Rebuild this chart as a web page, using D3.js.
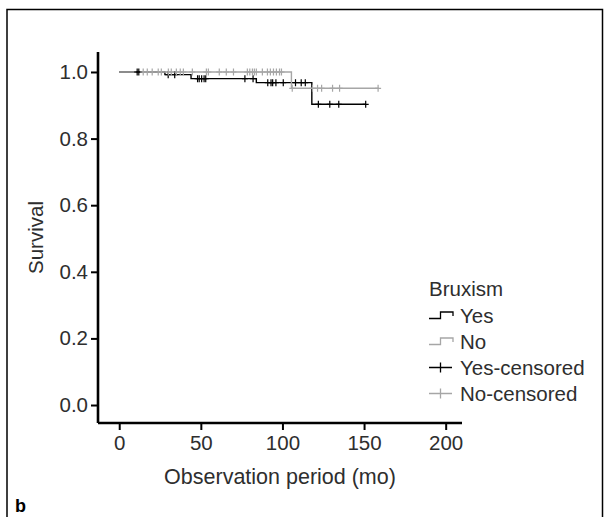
<!DOCTYPE html>
<html>
<head>
<meta charset="utf-8">
<script src="https://cdn.jsdelivr.net/npm/d3@7"></script>
<style>
  html, body { margin: 0; padding: 0; background: #fff; }
  svg { display: block; }
  text { font-family: "Liberation Sans", Arial, Helvetica, sans-serif; }
</style>
</head>
<body>
<svg id="chart" width="604" height="517"></svg>
<script>
// ---- data ----
const groups = ["Yes", "No"];
const yesTimes = [0, 28, 44, 84, 118, 151];
const yesSurv  = [1, 0.992, 0.980, 0.968, 0.903, 0.903];
const yesCensored = [11, 12, 30, 34, 48, 49, 50.5, 52, 53, 77, 82, 91, 93, 94, 96, 100.5, 108, 111.5, 114, 122, 129, 134.5, 151];
const noTimes = [0, 105.5, 159];
const noSurv  = [1, 0.951, 0.951];
const noCensored = [14.7, 17.2, 20.2, 23.9, 25.8, 30.1, 31.9, 35, 37.4, 39.3, 44.8, 53.4, 54.6, 61.3, 65.6, 70, 78.5, 80, 81.6, 82.8, 84, 87.7, 90.8, 92.6, 94.5, 96.3, 98.2, 99.4, 106, 118.4, 121.5, 124, 130.7, 135, 158.6];
const xTicks = [0, 50, 100, 150, 200];
const yTicks = [0, 0.2, 0.4, 0.6, 0.8, 1.0];
const legendTitle = "Bruxism";
const legendLabels = ["Yes", "No", "Yes-censored", "No-censored"];
const xTitle = "Observation period (mo)";
const yTitle = "Survival";
const panelLabel = "b";

// ---- layout ----
const svg = d3.select("#chart");
const FONT = 20.5;
const textColor = "#2e2e2e";
const colors = { Yes: "#000000", No: "#a6a6a6" };

const x = d3.scaleLinear().domain([-13, 210]).range([98, 462]);
const y = d3.scaleLinear().domain([-0.054, 1.06]).range([423, 52]);

// frame
svg.append("rect")
  .attr("x", 7).attr("y", 9.5)
  .attr("width", 595.5).attr("height", 560)
  .attr("fill", "none").attr("stroke", "#000").attr("stroke-width", 1.5);

// axes
const xAxis = d3.axisBottom(x).tickValues(xTicks).tickSize(7).tickPadding(5).tickFormat(d3.format("d"));
const yAxis = d3.axisLeft(y).tickValues(yTicks).tickSize(7).tickPadding(3).tickFormat(d3.format(".1f"));

const gx = svg.append("g").attr("transform", "translate(0,423)").call(xAxis);
const gy = svg.append("g").attr("transform", "translate(98,0)").call(yAxis);
[gx, gy].forEach(g => {
  g.select(".domain").attr("stroke", "#000").attr("stroke-width", 2.6);
  g.selectAll(".tick line").attr("stroke", "#000").attr("stroke-width", 2);
  g.selectAll(".tick text").attr("fill", textColor).style("font-size", FONT + "px")
    .style("font-family", '"Liberation Sans", Arial, sans-serif');
});
gx.select(".domain").attr("d", `M${x.range()[0]},0H${x.range()[1]}`);
gy.select(".domain").attr("d", `M0,${y.range()[0]}V${y.range()[1]}`);

// titles
svg.append("text").attr("x", (x.range()[0] + x.range()[1]) / 2).attr("y", 484)
  .attr("text-anchor", "middle").attr("fill", textColor).style("font-size", "21.5px").text(xTitle);
svg.append("text").attr("transform", `translate(43,${(y.range()[0] + y.range()[1]) / 2}) rotate(-90)`)
  .attr("text-anchor", "middle").attr("fill", textColor).style("font-size", FONT + "px").text(yTitle);
svg.append("text").attr("x", 15).attr("y", 512).attr("fill", "#000")
  .style("font-size", "18px").style("font-weight", "bold").text(panelLabel);

// curves
const series = {
  Yes: { t: yesTimes, s: yesSurv, c: yesCensored },
  No:  { t: noTimes,  s: noSurv,  c: noCensored }
};
const line = d3.line().x(d => x(d[0])).y(d => y(d[1])).curve(d3.curveStepAfter);
function survAt(ser, t) {
  let v = ser.s[0];
  for (let i = 0; i < ser.t.length; i++) if (ser.t[i] <= t) v = ser.s[i];
  return v;
}
groups.forEach(g => {
  const ser = series[g];
  const pts = ser.t.map((t, i) => [t, ser.s[i]]);
  svg.append("path").attr("d", line(pts)).attr("fill", "none")
    .attr("stroke", colors[g]).attr("stroke-width", 1.4);
});
groups.forEach(g => {
  const ser = series[g];
  svg.append("g").selectAll("path").data(ser.c).join("path")
    .attr("d", t => {
      const cx = x(t), cy = y(survAt(ser, t));
      return `M${cx - 3},${cy}H${cx + 3}M${cx},${cy - 3.5}V${cy + 3.5}`;
    })
    .attr("stroke", colors[g]).attr("stroke-width", 1.2).attr("fill", "none");
});

// legend
const lx = 429;
svg.append("text").attr("x", lx).attr("y", 296).attr("fill", textColor)
  .style("font-size", FONT + "px").text(legendTitle);
const legendColors = [colors.Yes, colors.No, colors.Yes, colors.No];
legendLabels.forEach((lab, i) => {
  const base = 323 + i * 26;
  const yc = base - 7.5;
  const g = svg.append("g");
  if (i < 2) {
    g.append("path").attr("d", `M${lx},${yc + 3}H${lx + 11.5}V${yc - 3.5}H${lx + 24}V${yc + 0.5}`)
      .attr("fill", "none").attr("stroke", legendColors[i]).attr("stroke-width", 1.3);
  } else {
    g.append("path").attr("d", `M${lx},${yc}H${lx + 23}M${lx + 11.5},${yc - 5}V${yc + 5}`)
      .attr("fill", "none").attr("stroke", legendColors[i]).attr("stroke-width", 1.3);
  }
  g.append("text").attr("x", lx + 31).attr("y", base).attr("fill", textColor)
    .style("font-size", FONT + "px").text(lab);
});
</script>
</body>
</html>
